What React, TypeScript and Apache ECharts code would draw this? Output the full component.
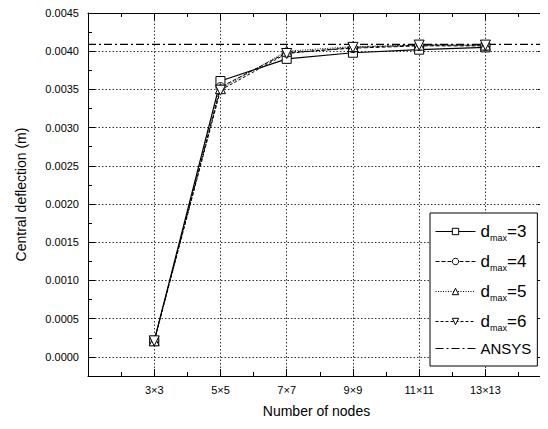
import React, { useEffect, useRef } from "react";
import * as echarts from "echarts";

const categories = ["3×3", "5×5", "7×7", "9×9", "11×11", "13×13"];
const dmax3 = [0.00021, 0.00361, 0.00390, 0.00398, 0.00402, 0.00405];
const dmax4 = [0.00021, 0.00353, 0.00398, 0.00404, 0.00407, 0.00407];
const dmax5 = [0.00021, 0.00351, 0.00400, 0.00406, 0.00408, 0.00408];
const dmax6 = [0.00021, 0.00349, 0.00397, 0.00405, 0.00408, 0.00408];
const ansys = 0.00409;
const seriesNames = ["dmax=3", "dmax=4", "dmax=5", "dmax=6", "ANSYS"];

const X_MIN = -1;
const X_MAX = 5.9;
const Y_MIN = -0.00025;
const Y_MAX = 0.0045;

const FONT = "Liberation Sans, Arial, sans-serif";

export default function App() {
  const ref = useRef<HTMLDivElement>(null);
  useEffect(() => {
    if (!ref.current) return;
    const chart = echarts.init(ref.current, undefined, { renderer: "svg" });
    const toPts = (arr: number[]) => arr.map((v, i) => [i, v]);
    const common = {
      type: "line",
      xAxisIndex: 0,
      yAxisIndex: 0,
      symbolSize: 9,
      itemStyle: { color: "#fff", borderColor: "#000", borderWidth: 1 },
      z: 3,
    };
    const xAxisBase = {
      type: "value",
      min: X_MIN,
      max: X_MAX,
      interval: 1,
      axisLine: { show: true, onZero: false, lineStyle: { color: "#000", width: 1 } },
      axisTick: { show: true, inside: true, length: 7, lineStyle: { color: "#000" } },
      minorTick: { show: true, splitNumber: 2, length: 4, lineStyle: { color: "#000" } },
    };
    const yAxisBase = {
      type: "value",
      min: Y_MIN,
      max: Y_MAX,
      splitNumber: 9,
      axisLine: { show: true, onZero: false, lineStyle: { color: "#000", width: 1 } },
      axisTick: { show: true, inside: true, length: 7, lineStyle: { color: "#000" } },
      minorTick: { show: true, splitNumber: 2, length: 4, lineStyle: { color: "#000" } },
    };
    const legendItem = (name: string) => ({
      name,
      itemStyle: { color: "#fff", borderColor: "#000", borderWidth: 1 },
      lineStyle: { color: "#000", width: 1 },
    });
    chart.setOption({
      animation: false,
      backgroundColor: "#fff",
      textStyle: { fontFamily: FONT },
      grid: { left: 88, top: 13, right: 2, bottom: 53, containLabel: false },
      xAxis: [
        {
          ...xAxisBase,
          position: "bottom",
          name: "Number of nodes",
          nameLocation: "middle",
          nameGap: 28,
          nameTextStyle: { fontSize: 14, color: "#000", fontFamily: FONT },
          axisLabel: {
            color: "#000",
            fontSize: 11,
            margin: 8,
            fontFamily: FONT,
            formatter: (v: number) => {
              const i = Math.round(v);
              return Math.abs(v - i) < 1e-6 && i >= 0 && i < categories.length ? categories[i] : "";
            },
          },
          splitLine: { show: true, lineStyle: { color: "#333", type: [1.5, 2], width: 1 } },
        },
        {
          ...xAxisBase,
          position: "top",
          axisLabel: { show: false },
          splitLine: { show: false },
        },
      ],
      yAxis: [
        {
          ...yAxisBase,
          position: "left",
          name: "Central deflection (m)",
          nameLocation: "middle",
          nameGap: 60,
          nameTextStyle: { fontSize: 14, color: "#000", fontFamily: FONT },
          axisLabel: {
            color: "#000",
            fontSize: 11,
            margin: 9,
            fontFamily: FONT,
            formatter: (v: number) => (v < -1e-9 ? "" : v.toFixed(4)),
          },
          splitLine: { show: true, lineStyle: { color: "#333", type: [1.5, 2], width: 1 } },
        },
        {
          ...yAxisBase,
          position: "right",
          axisLabel: { show: false },
          splitLine: { show: false },
        },
      ],
      legend: {
        orient: "vertical",
        left: 430,
        top: 213,
        width: 104,
        padding: [8, 6, 10, 5],
        itemGap: 9,
        itemWidth: 40,
        itemHeight: 8,
        backgroundColor: "#fff",
        borderColor: "#000",
        borderWidth: 1,
        borderRadius: 0,
        data: [
          legendItem("dmax=3"),
          legendItem("dmax=4"),
          legendItem("dmax=5"),
          legendItem("dmax=6"),
          { name: "ANSYS", itemStyle: { opacity: 0 }, lineStyle: { color: "#000", width: 1 } },
        ],
        formatter: (name: string) =>
          name.startsWith("dmax") ? `{m|d}{s|max}{m|${name.slice(4)}}` : `{a|${name}}`,
        textStyle: {
          color: "#000",
          fontFamily: FONT,
          rich: {
            m: { fontSize: 17, color: "#000", fontFamily: FONT, lineHeight: 20 },
            s: { fontSize: 9, color: "#000", fontFamily: FONT, padding: [12, 0, 0, 0], lineHeight: 20 },
            a: { fontSize: 15, color: "#000", fontFamily: FONT, lineHeight: 20 },
          },
        },
      },
      series: [
        {
          ...common,
          name: seriesNames[0],
          symbol: "rect",
          symbolSize: 9,
          lineStyle: { color: "#000", width: 1.2, type: "solid" },
          data: toPts(dmax3),
        },
        {
          ...common,
          name: seriesNames[1],
          symbol: "circle",
          lineStyle: { color: "#000", width: 1, type: [4, 2] },
          data: toPts(dmax4),
        },
        {
          ...common,
          name: seriesNames[2],
          symbol: "triangle",
          symbolSize: 10,
          lineStyle: { color: "#000", width: 1, type: [1, 1.5] },
          data: toPts(dmax5),
        },
        {
          ...common,
          name: seriesNames[3],
          symbol: "path://M0,0 L10,0 L5,9 Z",
          symbolSize: 10,
          lineStyle: { color: "#000", width: 1, type: [3, 2] },
          data: toPts(dmax6),
        },
        {
          type: "line",
          name: seriesNames[4],
          xAxisIndex: 0,
          yAxisIndex: 0,
          symbol: "none",
          itemStyle: { color: "#000" },
          lineStyle: { color: "#000", width: 1.2, type: [8, 3, 2, 3] },
          data: [
            [X_MIN, ansys],
            [X_MAX, ansys],
          ],
          z: 2,
        },
      ],
    });
    return () => chart.dispose();
  }, []);
  return <div ref={ref} style={{ width: 548, height: 429, margin: -8 }} />;
}
